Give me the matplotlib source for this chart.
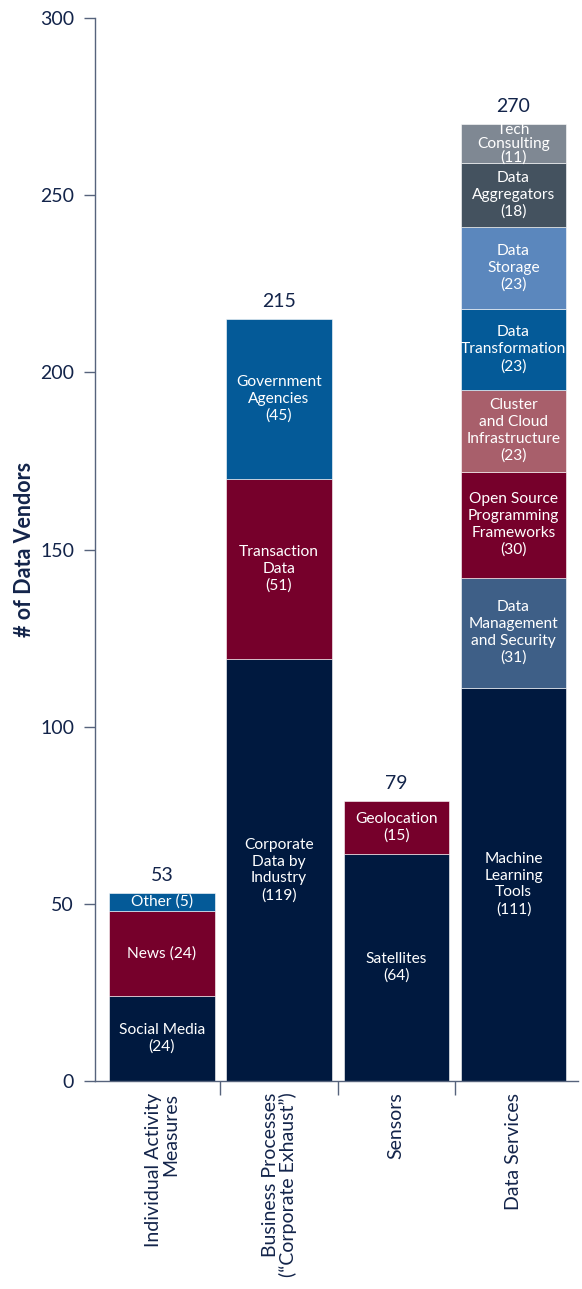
import matplotlib
matplotlib.use("Agg")
import matplotlib.pyplot as plt

# ---- data ----
categories = ["Individual Activity\nMeasures",
              "Business Processes\n(\u201cCorporate Exhaust\u201d)",
              "Sensors",
              "Data Services"]
totals = [53, 215, 79, 270]

individual_vals = [24, 24, 5]
individual_labels = ["Social Media\n(24)", "News (24)", "Other (5)"]

business_vals = [119, 51, 45]
business_labels = ["Corporate\nData by\nIndustry\n(119)", "Transaction\nData\n(51)",
                   "Government\nAgencies\n(45)"]

sensors_vals = [64, 15]
sensors_labels = ["Satellites\n(64)", "Geolocation\n(15)"]

services_vals = [111, 31, 30, 23, 23, 23, 18, 11]
services_labels = ["Machine\nLearning\nTools\n(111)",
                   "Data\nManagement\nand Security\n(31)",
                   "Open Source\nProgramming\nFrameworks\n(30)",
                   "Cluster\nand Cloud\nInfrastructure\n(23)",
                   "Data\nTransformation\n(23)",
                   "Data\nStorage\n(23)",
                   "Data\nAggregators\n(18)",
                   "Tech\nConsulting\n(11)"]

yticks = [0, 50, 100, 150, 200, 250, 300]

# ---- styles ----
NAVY = "#00193F"
CRIMSON = "#76002B"
BLUE = "#045A98"
individual_colors = [NAVY, CRIMSON, BLUE]
business_colors = [NAVY, CRIMSON, BLUE]
sensors_colors = [NAVY, CRIMSON]
services_colors = [NAVY, "#3E5F87", CRIMSON, "#A85F6B", BLUE, "#5B87BD", "#44525F", "#7F8893"]
TEXT = "#13244A"
AXIS = "#56637C"

plt.rcParams['font.family'] = ['Lato', 'DejaVu Sans']

fig = plt.figure(figsize=(5.82, 12.89), dpi=100)
ax = fig.add_axes([0.1632, 0.1614, 0.83, 0.8246])

stacks = [(individual_vals, individual_labels, individual_colors),
          (business_vals, business_labels, business_colors),
          (sensors_vals, sensors_labels, sensors_colors),
          (services_vals, services_labels, services_colors)]

for i, (vals, labels, cols) in enumerate(stacks):
    bottom = 0
    for v, lab, c in zip(vals, labels, cols):
        ax.bar(i, v, bottom=bottom, width=0.9, color=c, edgecolor="white",
               linewidth=0.4)
        nlines = lab.count("\n") + 1
        ls = 1.25 if v >= 5.6 * nlines else 1.0
        ax.text(i, bottom + v / 2, lab, ha="center", va="center", color="white",
                fontsize=11.2, linespacing=ls)
        bottom += v
    ax.text(i, totals[i] + 2.5, str(totals[i]), ha="center", va="bottom",
            color=TEXT, fontsize=14)

ax.set_ylim(0, 300)
ax.set_xlim(-0.57, 3.55)
ax.set_yticks(yticks)
ax.set_yticklabels([str(t) for t in yticks], color=TEXT, fontsize=14)
ax.tick_params(axis="y", direction="out", length=8, color=AXIS, width=1, pad=7)

# x ticks at category boundaries
ax.set_xticks([0.5, 1.5, 2.5])
ax.set_xticklabels([])
ax.tick_params(axis="x", direction="out", length=10, color=AXIS, width=1)
for i, cat in enumerate(categories):
    ax.text(i, -3.3, cat, rotation=90, ha="center", va="top", color=TEXT,
            fontsize=14, multialignment="right", linespacing=1.0,
            transform=ax.transData)

for s in ["top", "right"]:
    ax.spines[s].set_visible(False)
for s in ["left", "bottom"]:
    ax.spines[s].set_color(AXIS)
    ax.spines[s].set_linewidth(1)

fig.text(25 / 582, 1 - 549 / 1289, "# of Data Vendors", rotation=90,
         ha="center", va="center", fontsize=15.5, fontweight="bold", color=TEXT)

fig.savefig("out.png", dpi=100)
